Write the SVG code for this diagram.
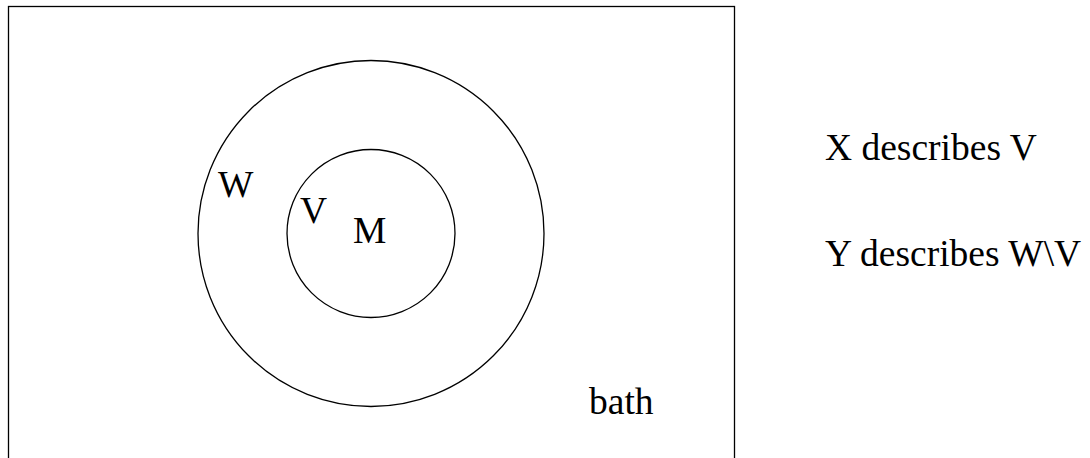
<svg xmlns="http://www.w3.org/2000/svg" width="1090" height="458" viewBox="0 0 1090 458">
<style>
.ln{fill:none;stroke:#000;stroke-width:1.3}
.t{font-family:"Liberation Serif","Times New Roman",serif;font-size:37.5px;fill:#000}
</style>
<rect width="1090" height="458" fill="#fff"/>
<g id="bath">
<rect class="ln" x="8.5" y="6.5" width="726" height="470"/>
<text class="t" x="589" y="414">bath</text>
</g>
<g id="W">
<circle class="ln" cx="371" cy="233.5" r="173"/>
<text class="t" x="218" y="197">W</text>
</g>
<g id="V">
<circle class="ln" cx="371" cy="233.5" r="84"/>
<text class="t" x="300" y="223">V</text>
<text class="t" x="353" y="243">M</text>
</g>
<g id="legend">
<text class="t" x="825" y="160">X describes V</text>
<text class="t" x="825" y="266">Y describes W\V</text>
</g>
<g id="connectors"/>
</svg>
